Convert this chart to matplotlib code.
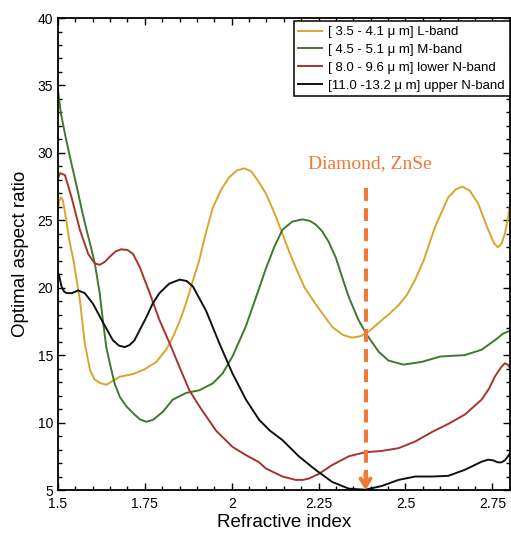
import matplotlib
matplotlib.use("Agg")
import matplotlib.pyplot as plt
from matplotlib.ticker import MultipleLocator

plt.rcParams['font.family'] = ['Liberation Sans', 'DejaVu Sans']

# L-band
x_L = [1.498, 1.503, 1.508, 1.514, 1.522, 1.532, 1.544, 1.563, 1.577, 1.592,
       1.605, 1.620, 1.639, 1.658, 1.678, 1.716, 1.749, 1.783, 1.811, 1.830,
       1.850, 1.868, 1.883, 1.905, 1.925, 1.945, 1.970, 1.993, 2.015, 2.036,
       2.055, 2.074, 2.098, 2.122, 2.146, 2.165, 2.184, 2.210, 2.241, 2.289,
       2.320, 2.346, 2.370, 2.389, 2.410, 2.432, 2.455, 2.480, 2.505, 2.528,
       2.552, 2.585, 2.623, 2.645, 2.663, 2.685, 2.709, 2.738, 2.755, 2.766,
       2.777, 2.786, 2.795, 2.800]
y_L = [25.6, 26.4, 26.7, 26.5, 25.3, 23.6, 22.1, 19.1, 15.9, 13.9,
       13.2, 12.95, 12.8, 13.1, 13.4, 13.6, 13.95, 14.5, 15.4, 16.3,
       17.5, 18.8, 20.1, 21.9, 24.0, 25.9, 27.3, 28.2, 28.7, 28.85,
       28.65, 28.0, 27.0, 25.6, 24.0, 22.7, 21.5, 20.0, 18.8, 17.1,
       16.5, 16.3, 16.4, 16.66, 17.1, 17.6, 18.1, 18.7, 19.5, 20.6,
       22.0, 24.5, 26.7, 27.3, 27.5, 27.2, 26.25, 24.3, 23.3, 23.0,
       23.3, 24.0, 25.2, 26.1]

# M-band
x_M = [1.498, 1.508, 1.520, 1.537, 1.554, 1.570, 1.582, 1.595, 1.606, 1.620,
       1.630, 1.639, 1.649, 1.663, 1.678, 1.697, 1.716, 1.735, 1.754, 1.773,
       1.802, 1.830, 1.869, 1.907, 1.945, 1.974, 2.002, 2.040, 2.074, 2.098,
       2.122, 2.146, 2.174, 2.203, 2.225, 2.241, 2.260, 2.279, 2.300, 2.320,
       2.337, 2.365, 2.389, 2.423, 2.451, 2.494, 2.547, 2.600, 2.670, 2.719,
       2.757, 2.781, 2.800]
y_M = [35.0, 33.0, 31.4, 29.4, 27.5, 25.6, 24.3, 23.0, 21.8, 19.6,
       17.4, 15.6, 14.4, 12.9, 11.9, 11.2, 10.7, 10.25, 10.06, 10.2,
       10.8, 11.7, 12.2, 12.4, 12.9, 13.65, 14.9, 17.1, 19.6, 21.4,
       23.0, 24.3, 24.9, 25.07, 24.95, 24.7, 24.2, 23.4, 22.2, 20.6,
       19.3, 17.6, 16.5, 15.25, 14.6, 14.3, 14.5, 14.9, 15.0, 15.4,
       16.1, 16.6, 16.8]

# lower N-band
x_lN = [1.498, 1.506, 1.520, 1.539, 1.563, 1.587, 1.606, 1.620, 1.634, 1.649,
        1.666, 1.682, 1.700, 1.716, 1.735, 1.764, 1.792, 1.821, 1.850, 1.878,
        1.907, 1.955, 2.002, 2.040, 2.079, 2.098, 2.146, 2.184, 2.205, 2.222,
        2.251, 2.289, 2.337, 2.384, 2.432, 2.480, 2.528, 2.576, 2.623, 2.671,
        2.719, 2.740, 2.757, 2.775, 2.786, 2.794, 2.800]
y_lN = [28.0, 28.5, 28.35, 26.7, 24.3, 22.5, 21.8, 21.7, 21.9, 22.3,
        22.7, 22.85, 22.8, 22.5, 21.55, 19.6, 17.6, 15.9, 14.1, 12.4,
        11.2, 9.4, 8.2, 7.6, 7.05, 6.6, 6.0, 5.75, 5.75, 5.85,
        6.2, 6.85, 7.5, 7.8, 7.9, 8.1, 8.6, 9.3, 9.9, 10.6,
        11.7, 12.5, 13.4, 14.1, 14.4, 14.3, 14.1]

# upper N-band
x_uN = [1.498, 1.504, 1.510, 1.518, 1.525, 1.540, 1.558, 1.577, 1.601, 1.630,
        1.658, 1.676, 1.692, 1.706, 1.720, 1.736, 1.754, 1.772, 1.792, 1.820,
        1.850, 1.870, 1.888, 1.926, 1.964, 2.002, 2.041, 2.079, 2.110, 2.146,
        2.193, 2.241, 2.289, 2.337, 2.384, 2.432, 2.480, 2.528, 2.576, 2.623,
        2.671, 2.719, 2.738, 2.752, 2.766, 2.776, 2.786, 2.795, 2.800]
y_uN = [21.3, 20.8, 20.1, 19.7, 19.6, 19.6, 19.8, 19.6, 18.8, 17.4,
        16.1, 15.7, 15.6, 15.75, 16.1, 16.9, 17.8, 18.8, 19.6, 20.3,
        20.6, 20.5, 20.1, 18.3, 15.9, 13.65, 11.7, 10.2, 9.4, 8.7,
        7.5, 6.5, 5.6, 5.1, 5.02, 5.3, 5.75, 6.0, 6.0, 6.05,
        6.5, 7.1, 7.25, 7.2, 7.05, 7.05, 7.2, 7.5, 7.7]

labels = ['[ 3.5 - 4.1 \u03bc m] L-band',
          '[ 4.5 - 5.1 \u03bc m] M-band',
          '[ 8.0 - 9.6 \u03bc m] lower N-band',
          '[11.0 -13.2 \u03bc m] upper N-band']
colors = ['#D9A531', '#3D7A2C', '#A8332E', '#111111']

marker_x = 2.385
marker_top = 27.4
marker_label = 'Diamond, ZnSe'

fig = plt.figure(figsize=(5.11, 5.38), dpi=100)
ax = fig.add_axes([0.1135, 0.0892, 0.884, 0.8773])

ax.plot(x_L, y_L, color=colors[0], lw=1.4, label=labels[0])
ax.plot(x_M, y_M, color=colors[1], lw=1.4, label=labels[1])
ax.plot(x_lN, y_lN, color=colors[2], lw=1.4, label=labels[2])
ax.plot(x_uN, y_uN, color=colors[3], lw=1.4, label=labels[3])

orange = '#F07A35'
ax.plot([marker_x, marker_x], [marker_top, 5.6], color=orange, lw=2.9,
        dashes=(3.2, 1.8))
ax.annotate('', xy=(marker_x, 5.0), xytext=(marker_x, 6.3),
            annotation_clip=False,
            arrowprops=dict(arrowstyle='->,head_width=0.35,head_length=0.55',
                            color=orange, lw=2.9, shrinkA=0, shrinkB=0))
ax.text(marker_x + 0.012, 29.2, marker_label, color=orange, fontsize=14,
        family='Liberation Serif', ha='center', va='center')

ax.set_xlim(1.5, 2.8)
ax.set_ylim(5, 40)
ax.set_xticks([1.5, 1.75, 2, 2.25, 2.5, 2.75])
ax.set_xticklabels(['1.5', '1.75', '2', '2.25', '2.5', '2.75'])
ax.set_yticks([5, 10, 15, 20, 25, 30, 35, 40])
ax.xaxis.set_minor_locator(MultipleLocator(0.05))
ax.yaxis.set_minor_locator(MultipleLocator(1))
ax.tick_params(which='both', direction='in', top=True, right=True,
               labelsize=10, width=1)
ax.tick_params(which='major', length=5)
ax.tick_params(which='minor', length=3)
ax.tick_params(axis='x', pad=5)
for s in ax.spines.values():
    s.set_linewidth(1.3)

ax.set_xlabel('Refractive index', fontsize=13.5, labelpad=2)
ax.set_ylabel('Optimal aspect ratio', fontsize=13.5, labelpad=6)

leg = ax.legend(loc='upper right', bbox_to_anchor=(1.0, 0.993), fontsize=9.5,
                frameon=True, fancybox=False, handlelength=1.8,
                handletextpad=0.5, borderpad=0.35, labelspacing=0.42,
                borderaxespad=0)
leg.get_frame().set_edgecolor('black')
leg.get_frame().set_linewidth(1.1)
leg.get_frame().set_alpha(1)

fig.savefig('out.png', dpi=100)
